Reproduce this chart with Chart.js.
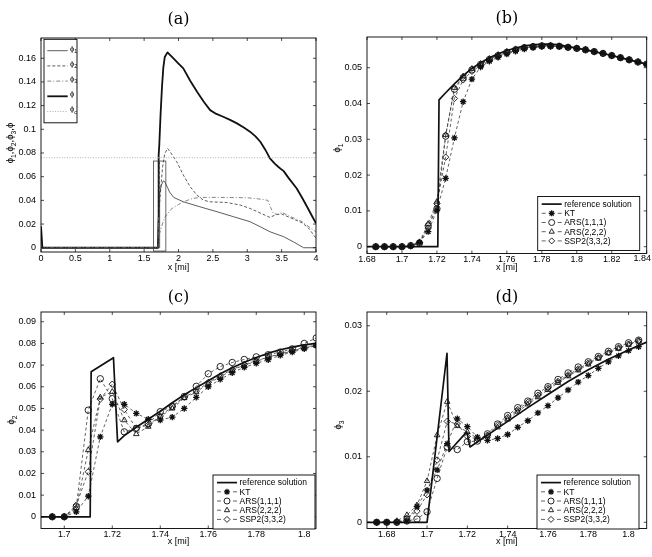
<!DOCTYPE html>
<html><head><meta charset="utf-8">
<script src="https://cdn.jsdelivr.net/npm/chart.js@4.4.1/dist/chart.umd.min.js"></script>
<style>
html,body{margin:0;padding:0;background:#fff;width:652px;height:557px;overflow:hidden;}
canvas{position:absolute;}
</style></head>
<body>
<canvas id="ca" width="326" height="280" style="left:0;top:0"></canvas>
<canvas id="cb" width="326" height="280" style="left:326px;top:0"></canvas>
<canvas id="cc" width="326" height="277" style="left:0;top:280px"></canvas>
<canvas id="cd" width="326" height="277" style="left:326px;top:280px"></canvas>
<script>
// ---------------- DATA ----------------
// Panel (a): full domain
const aX_phi1 = [0, 1.72, 1.7212, 1.73, 1.75, 1.78, 1.80, 1.84, 1.87, 1.93, 2.07, 2.31, 2.56, 2.80, 3.04, 3.19, 3.33, 3.53, 3.67, 3.82, 4.0];
const aY_phi1 = [0, 0, 0.041, 0.0455, 0.0528, 0.0565, 0.0557, 0.051, 0.047, 0.0425, 0.0388, 0.0346, 0.0304, 0.0262, 0.022, 0.0177, 0.0135, 0.0093, 0.005, 0, 0];
const aX_phi2 = [0, 1.7108, 1.7112, 1.7205, 1.722, 1.73, 1.75, 1.77, 1.80, 1.84, 1.878, 1.975, 2.07, 2.17, 2.266, 2.36, 2.45, 2.7, 2.9, 3.05, 3.2, 3.33, 3.42, 3.5, 3.6, 3.8, 3.9, 4.0];
const aY_phi2 = [0, 0, 0.0669, 0.0734, 0.0346, 0.0413, 0.056, 0.0688, 0.0793, 0.0839, 0.081, 0.0726, 0.0614, 0.0515, 0.0445, 0.0403, 0.0388, 0.0382, 0.036, 0.033, 0.029, 0.0256, 0.028, 0.0285, 0.026, 0.021, 0.016, 0.008];
const aX_phi3 = [0, 1.70, 1.7099, 1.7109, 1.7197, 1.7213, 1.74, 1.76, 1.78, 1.80, 1.83, 1.9, 2.0, 2.07, 2.2, 2.31, 2.6, 3.0, 3.2, 3.3, 3.34, 3.38, 3.45, 3.5, 3.6, 3.8, 3.9, 4.0];
const aY_phi3 = [0, 0, 0.0258, 0.0108, 0.0138, 0.0115, 0.015, 0.0188, 0.0226, 0.026, 0.0276, 0.033, 0.0365, 0.0388, 0.0415, 0.0425, 0.0425, 0.0422, 0.041, 0.040, 0.034, 0.029, 0.028, 0.030, 0.027, 0.022, 0.0175, 0.0135];
const aX_phi = [0, 0.02, 1.70, 1.7099, 1.7112, 1.7205, 1.722, 1.74, 1.76, 1.78, 1.80, 1.84, 1.93, 2.0, 2.07, 2.17, 2.27, 2.37, 2.46, 2.55, 2.65, 2.75, 2.85, 2.95, 3.04, 3.12, 3.19, 3.26, 3.33, 3.4, 3.45, 3.5, 3.53, 3.6, 3.72, 3.8, 3.87, 3.94, 4.0];
const aY_phi = [0.018, 0, 0, 0.026, 0.078, 0.087, 0.087, 0.1135, 0.136, 0.1526, 0.161, 0.165, 0.1596, 0.1555, 0.1514, 0.141, 0.1317, 0.123, 0.1162, 0.113, 0.1106, 0.108, 0.105, 0.1015, 0.098, 0.094, 0.0895, 0.083, 0.0755, 0.071, 0.0684, 0.066, 0.0647, 0.059, 0.050, 0.042, 0.0346, 0.027, 0.0206];
const aX_phic = [0, 4];
const aY_phic = [0.076, 0.076];
const aInsetX = [1.636, 1.816];
const aInsetY = [-0.0028, 0.0732];
const aXTicks = [0, 0.5, 1, 1.5, 2, 2.5, 3, 3.5, 4];
const aYTicks = [0, 0.02, 0.04, 0.06, 0.08, 0.1, 0.12, 0.14, 0.16];

// Panel (b): phi_1 zoom
const bRefX = [1.68, 1.7205, 1.7212, 1.725, 1.73, 1.735, 1.74, 1.745, 1.75, 1.755, 1.76, 1.765, 1.77, 1.775, 1.78, 1.785, 1.79, 1.80, 1.81, 1.82, 1.83, 1.84];
const bRefY = [0, 0, 0.041, 0.043, 0.0455, 0.0478, 0.0498, 0.0514, 0.0528, 0.0539, 0.0548, 0.0555, 0.0561, 0.0564, 0.0566, 0.0566, 0.0564, 0.0555, 0.0545, 0.0534, 0.0522, 0.051];
const bX = [1.685,1.69,1.695,1.70,1.705,1.71,1.715,1.72,1.725,1.73,1.735,1.74,1.745,1.75,1.755,1.76,1.765,1.77,1.775,1.78,1.785,1.79,1.795,1.80,1.805,1.81,1.815,1.82,1.825,1.83,1.835,1.84];
const bKT     = [0,0,0,0,0.0002,0.0012,0.0042,0.0102,0.0191,0.0304,0.0405,0.0468,0.0502,0.0518,0.0529,0.0538,0.0546,0.0552,0.0556,0.0559,0.0560,0.0559,0.0557,0.0554,0.0550,0.0545,0.0540,0.0534,0.0528,0.0522,0.0516,0.0510];
const bARS111 = [0,0,0,0,0.0003,0.0010,0.0058,0.0106,0.0309,0.0440,0.0472,0.0494,0.0509,0.0523,0.0534,0.0543,0.0550,0.0556,0.0559,0.0561,0.0561,0.0560,0.0557,0.0554,0.0550,0.0545,0.0540,0.0534,0.0528,0.0522,0.0516,0.0510];
const bARS222 = [0,0,0,0,0.0003,0.0013,0.0064,0.0126,0.0312,0.0444,0.0476,0.0497,0.0511,0.0525,0.0536,0.0545,0.0552,0.0557,0.0560,0.0562,0.0562,0.0560,0.0557,0.0554,0.0550,0.0545,0.0540,0.0534,0.0528,0.0522,0.0516,0.0510];
const bSSP    = [0,0,0,0,0.0003,0.0011,0.0052,0.0120,0.0250,0.0414,0.0466,0.0490,0.0506,0.0520,0.0531,0.0541,0.0549,0.0555,0.0558,0.0560,0.0561,0.0560,0.0557,0.0554,0.0550,0.0545,0.0540,0.0534,0.0528,0.0522,0.0516,0.0510];
const bXTicks = [1.68, 1.7, 1.72, 1.74, 1.76, 1.78, 1.8, 1.82, 1.84];
const bYTicks = [0, 0.01, 0.02, 0.03, 0.04, 0.05];

// Panel (c): phi_2 zoom
const cRefX = [1.69, 1.7108, 1.7112, 1.7205, 1.7222, 1.725, 1.73, 1.735, 1.74, 1.745, 1.75, 1.755, 1.76, 1.765, 1.77, 1.775, 1.78, 1.785, 1.79, 1.795, 1.80, 1.805];
const cRefY = [0, 0, 0.0669, 0.0734, 0.0346, 0.0375, 0.0413, 0.045, 0.0487, 0.0526, 0.0563, 0.0596, 0.0628, 0.066, 0.0688, 0.0713, 0.0735, 0.0755, 0.0771, 0.0783, 0.0793, 0.080];
const cX = [1.695,1.70,1.705,1.71,1.715,1.72,1.725,1.73,1.735,1.74,1.745,1.75,1.755,1.76,1.765,1.77,1.775,1.78,1.785,1.79,1.795,1.80,1.805];
const cKT     = [0,0,0.0023,0.0095,0.0369,0.0519,0.0519,0.0477,0.0450,0.0446,0.0460,0.0500,0.0551,0.0600,0.0634,0.0665,0.0690,0.0708,0.0725,0.0745,0.0760,0.0775,0.0790];
const cARS111 = [0,0,0.0046,0.0492,0.0637,0.0545,0.0392,0.0408,0.0430,0.0485,0.0510,0.0555,0.0602,0.0660,0.0693,0.0712,0.0726,0.0738,0.0748,0.0760,0.0775,0.0800,0.0825];
const cARS222 = [0,0,0.0040,0.0308,0.0551,0.0577,0.0446,0.0382,0.0416,0.0462,0.0500,0.0548,0.0575,0.0615,0.0646,0.0677,0.0700,0.0718,0.0735,0.0750,0.0765,0.0780,0.0790];
const cSSP    = [0,0,0.0054,0.0208,0.0543,0.0612,0.0495,0.0408,0.0424,0.0465,0.0508,0.0552,0.0580,0.0620,0.0650,0.0680,0.0703,0.0720,0.0737,0.0752,0.0767,0.0782,0.0792];
const cXTicks = [1.7, 1.72, 1.74, 1.76, 1.78, 1.8];
const cYTicks = [0, 0.01, 0.02, 0.03, 0.04, 0.05, 0.06, 0.07, 0.08, 0.09];

// Panel (d): phi_3 zoom
const dRefX = [1.67, 1.70, 1.7099, 1.7109, 1.7197, 1.7213, 1.73, 1.74, 1.75, 1.76, 1.77, 1.78, 1.79, 1.80, 1.809];
const dRefY = [0, 0, 0.0258, 0.0108, 0.0138, 0.0115, 0.0133, 0.0154, 0.0175, 0.0195, 0.0215, 0.0233, 0.0249, 0.0263, 0.0275];
const dX = [1.675,1.68,1.685,1.69,1.695,1.70,1.705,1.71,1.715,1.72,1.725,1.73,1.735,1.74,1.745,1.75,1.755,1.76,1.765,1.77,1.775,1.78,1.785,1.79,1.795,1.80,1.805];
const dKT     = [0,0,0,0.0002,0.0024,0.0049,0.0080,0.0120,0.0158,0.0146,0.0130,0.0125,0.0128,0.0134,0.0145,0.0155,0.0167,0.0178,0.0190,0.0202,0.0214,0.0224,0.0235,0.0245,0.0254,0.0262,0.0268];
const dARS111 = [0,0,0,0.0002,0.0005,0.0016,0.0067,0.0115,0.0111,0.0123,0.0124,0.0135,0.0150,0.0163,0.0175,0.0185,0.0197,0.0207,0.0218,0.0228,0.0237,0.0245,0.0253,0.0261,0.0268,0.0274,0.0278];
const dARS222 = [0,0,0.0002,0.0011,0.0026,0.0063,0.0133,0.0184,0.0147,0.0138,0.0128,0.0132,0.0145,0.0157,0.0169,0.0180,0.0191,0.0202,0.0213,0.0223,0.0232,0.0241,0.0250,0.0258,0.0265,0.0271,0.0276];
const dSSP    = [0,0,0,0.0006,0.0017,0.0042,0.0095,0.0154,0.0150,0.0131,0.0127,0.0133,0.0148,0.0160,0.0172,0.0183,0.0194,0.0205,0.0215,0.0225,0.0234,0.0243,0.0251,0.0259,0.0266,0.0272,0.0277];
const dXTicks = [1.68, 1.7, 1.72, 1.74, 1.76, 1.78, 1.8];
const dYTicks = [0, 0.01, 0.02, 0.03];

const methodNames = ['reference solution', 'KT', 'ARS(1,1,1)', 'ARS(2,2,2)', 'SSP2(3,3,2)'];
const methodMarkers = ['star', 'circle', 'triangle', 'rectRot'];

// ---------------- RENDERING ----------------
const FAM = '"Liberation Sans", Arial, Helvetica, sans-serif';
const PHIFAM = '"Liberation Sans", "DejaVu Sans", sans-serif';
Chart.defaults.font.family = FAM;
Chart.defaults.font.size = 9;
Chart.defaults.color = '#000';

const fmt = v => String(parseFloat(Number(v).toFixed(4)));
const pts = (xs, ys) => xs.map((x, i) => ({x: x, y: ys[i]}));

function lineDs(label, xs, ys, o) {
  return Object.assign({label, data: pts(xs, ys), showLine: true, pointRadius: 0,
    borderColor: '#000', borderWidth: 1, fill: false, tension: 0}, o);
}
function markDs(label, xs, ys, style) {
  return {label, data: pts(xs, ys), showLine: true, borderColor: '#3a3a3a', borderWidth: 0.8,
    borderDash: [3, 2.5], pointStyle: style, pointRadius: 3.2, pointBorderColor: '#111',
    pointBackgroundColor: 'rgba(0,0,0,0)', pointBorderWidth: style === 'star' ? 1.3 : 0.9, tension: 0};
}
function refDs(xs, ys) { return lineDs(methodNames[0], xs, ys, {borderColor: '#111', borderWidth: 1.7}); }

function richWidth(ctx, segs, f, fam) {
  let w = 0;
  for (const s of segs) {
    ctx.font = f + 'px ' + fam; w += ctx.measureText(s.t).width;
    if (s.s) { ctx.font = (f * 0.72) + 'px ' + fam; w += ctx.measureText(s.s).width; }
  }
  return w;
}
function drawRich(ctx, segs, x, y, f, align, fam) {
  fam = fam || PHIFAM;
  const w = richWidth(ctx, segs, f, fam);
  let cx = align === 'center' ? x - w / 2 : x;
  ctx.textBaseline = 'middle'; ctx.textAlign = 'left';
  for (const s of segs) {
    ctx.font = f + 'px ' + fam; ctx.fillText(s.t, cx, y); cx += ctx.measureText(s.t).width;
    if (s.s) { ctx.font = (f * 0.72) + 'px ' + fam; ctx.fillText(s.s, cx, y + f * 0.38); cx += ctx.measureText(s.s).width; }
  }
}

const PANELS = {};

const framePlugin = {
  id: 'mframe',
  afterDatasetsDraw(chart) {
    const P = PANELS[chart.canvas.id];
    const ctx = chart.ctx, a = chart.chartArea, xs = chart.scales.x, ys = chart.scales.y;
    ctx.save();
    // inset rectangle (panel a)
    if (P.inset) {
      const x0 = xs.getPixelForValue(P.inset.x[0]), x1 = xs.getPixelForValue(P.inset.x[1]);
      const y0 = ys.getPixelForValue(P.inset.y[0]), y1 = ys.getPixelForValue(P.inset.y[1]);
      ctx.strokeStyle = '#444'; ctx.lineWidth = 0.8; ctx.setLineDash([]);
      ctx.strokeRect(x0, y1, x1 - x0, y0 - y1);
    }
    // box
    ctx.strokeStyle = '#000'; ctx.lineWidth = 0.9; ctx.setLineDash([]);
    ctx.strokeRect(a.left, a.top, a.right - a.left, a.bottom - a.top);
    // inward ticks
    ctx.lineWidth = 0.7; ctx.beginPath();
    const tl = 3;
    for (const v of P.xt) {
      const px = xs.getPixelForValue(v);
      ctx.moveTo(px, a.bottom); ctx.lineTo(px, a.bottom - tl);
      ctx.moveTo(px, a.top); ctx.lineTo(px, a.top + tl);
    }
    for (const v of P.yt) {
      const py = ys.getPixelForValue(v);
      ctx.moveTo(a.left, py); ctx.lineTo(a.left + tl, py);
      ctx.moveTo(a.right, py); ctx.lineTo(a.right - tl, py);
    }
    ctx.stroke();
    ctx.fillStyle = '#000';
    // edge tick labels that would be clipped by the page edge
    if (P.edgeX) {
      ctx.font = '9px ' + FAM; ctx.textBaseline = 'middle'; ctx.textAlign = 'center';
      for (const v of P.edgeX) {
        const s = fmt(v), w = ctx.measureText(s).width;
        let px = xs.getPixelForValue(v);
        px = Math.min(px, chart.width - 1 - w / 2);
        ctx.fillText(s, px, P.tickY);
      }
    }
    // title
    ctx.font = '16px "DejaVu Serif", "Liberation Serif", serif';
    ctx.textAlign = 'center'; ctx.textBaseline = 'middle';
    ctx.fillText(P.title, (a.left + a.right) / 2, P.titleY);
    // x label
    ctx.font = '9px ' + FAM;
    ctx.fillText('x [mi]', (a.left + a.right) / 2, P.xlabelY);
    // y label (rotated)
    ctx.save();
    ctx.translate(P.ylabelX, P.ylabelY); ctx.rotate(-Math.PI / 2);
    drawRich(ctx, P.ylabel, 0, 0, 9.5, 'center');
    ctx.restore();
    // legend
    const L = P.legend;
    if (L) {
      ctx.fillStyle = '#fff'; ctx.fillRect(L.x, L.y, L.w, L.h);
      ctx.strokeStyle = '#000'; ctx.lineWidth = 0.9; ctx.strokeRect(L.x, L.y, L.w, L.h);
      L.items.forEach((it, i) => {
        const yy = L.y + L.first + i * L.step;
        const sx0 = L.x + L.s0, sx1 = L.x + L.s1;
        ctx.save();
        ctx.strokeStyle = it.color || '#111'; ctx.lineWidth = it.lw || 0.8;
        ctx.setLineDash(it.dash || []);
        if (it.marker) {
          const mx = L.x + L.mx;
          ctx.strokeStyle = '#3a3a3a'; ctx.lineWidth = 0.8; ctx.setLineDash([]);
          ctx.beginPath(); ctx.moveTo(sx0, yy); ctx.lineTo(sx0 + 4, yy);
          ctx.moveTo(sx1 - 4, yy); ctx.lineTo(sx1, yy); ctx.stroke();
          ctx.strokeStyle = '#111'; ctx.fillStyle = 'rgba(0,0,0,0)';
          ctx.lineWidth = it.marker === 'star' ? 1.3 : 0.9;
          Chart.helpers.drawPoint(ctx, {pointStyle: it.marker, radius: 3.0, rotation: 0, borderWidth: ctx.lineWidth}, mx, yy);
        } else {
          ctx.beginPath(); ctx.moveTo(sx0, yy); ctx.lineTo(sx1, yy); ctx.stroke();
        }
        ctx.restore();
        ctx.fillStyle = '#000';
        if (it.rich) {
          drawRich(ctx, it.rich, L.x + L.tx, yy - 2.2, 7.5, 'left');
        } else {
          ctx.font = '8.5px ' + FAM; ctx.textAlign = 'left'; ctx.textBaseline = 'middle';
          ctx.fillText(it.label, L.x + L.tx, yy + 0.5);
        }
      });
    }
    ctx.restore();
  }
};

function methodLegend(x, y) {
  return {x, y, w: 102, h: 54, first: 7.6, step: 9.2, s0: 4, s1: 24, mx: 14, tx: 26.5,
    items: [
      {label: methodNames[0], lw: 1.7, color: '#111'},
      {label: methodNames[1], marker: methodMarkers[0]},
      {label: methodNames[2], marker: methodMarkers[1]},
      {label: methodNames[3], marker: methodMarkers[2]},
      {label: methodNames[4], marker: methodMarkers[3]}
    ]};
}

function makeChart(id, P) {
  PANELS[id] = P;
  const hidden = P.edgeX || [];
  new Chart(document.getElementById(id), {
    type: 'scatter',
    data: {datasets: P.datasets},
    options: {
      responsive: false, animation: false, events: [],
      layout: {padding: {left: 0, top: P.area.t, right: P.W - P.area.r, bottom: 0}},
      plugins: {legend: {display: false}, tooltip: {enabled: false}, title: {display: false}},
      elements: {line: {borderCapStyle: 'butt', borderJoinStyle: 'round'}},
      scales: {
        x: {type: 'linear', min: P.xr[0], max: P.xr[1],
          grid: {display: false, drawTicks: false}, border: {display: false},
          ticks: {padding: P.tickPad, maxRotation: 0, minRotation: 0, autoSkip: false,
            callback: v => (hidden.some(h => Math.abs(h - v) < 1e-9) ? '' : fmt(v)), font: {size: 9}, color: '#000'},
          afterBuildTicks: s => { s.ticks = P.xt.map(v => ({value: v})); },
          afterFit: s => { s.height = P.H - P.area.b; s.paddingLeft = 0; s.paddingRight = 0; }
        },
        y: {type: 'linear', min: P.yr[0], max: P.yr[1],
          grid: {display: false, drawTicks: false}, border: {display: false},
          ticks: {padding: 5, autoSkip: false, callback: v => fmt(v), font: {size: 9}, color: '#000'},
          afterBuildTicks: s => { s.ticks = P.yt.map(v => ({value: v})); },
          afterFit: s => { s.width = P.area.l; s.paddingTop = 0; s.paddingBottom = 0; }
        }
      }
    },
    plugins: [framePlugin]
  });
}

const PHI = 'ϕ';

// Panel (a)
makeChart('ca', {
  W: 326, H: 280, area: {l: 41, t: 38, r: 316, b: 252}, tickPad: 1.5,
  xr: [0, 4], yr: [-0.0036, 0.1771], xt: aXTicks, yt: aYTicks,
  title: '(a)', titleY: 20, xlabelY: 267.5, ylabelX: 10, ylabelY: 143,
  ylabel: [{t: PHI, s: '1'}, {t: ',' + PHI, s: '2'}, {t: ',' + PHI, s: '3'}, {t: ',' + PHI}],
  inset: {x: aInsetX, y: aInsetY},
  datasets: [
    lineDs('phi_c', aX_phic, aY_phic, {borderColor: '#a8a8a8', borderWidth: 0.9, borderDash: [1, 1.6]}),
    lineDs('phi_3', aX_phi3, aY_phi3, {borderColor: '#666', borderWidth: 0.8, borderDash: [4, 2, 1, 2]}),
    lineDs('phi_2', aX_phi2, aY_phi2, {borderColor: '#333', borderWidth: 0.8, borderDash: [3, 2]}),
    lineDs('phi_1', aX_phi1, aY_phi1, {borderColor: '#333', borderWidth: 0.8}),
    lineDs('phi', aX_phi, aY_phi, {borderColor: '#111', borderWidth: 1.8})
  ],
  legend: {x: 44, y: 39.3, w: 33, h: 83.5, first: 11.4, step: 15.2, s0: 3.3, s1: 23.7, tx: 26,
    items: [
      {rich: [{t: PHI, s: '1'}], color: '#333', lw: 0.8},
      {rich: [{t: PHI, s: '2'}], color: '#333', lw: 0.8, dash: [3, 2]},
      {rich: [{t: PHI, s: '3'}], color: '#666', lw: 0.8, dash: [4, 2, 1, 2]},
      {rich: [{t: PHI}], color: '#111', lw: 1.8},
      {rich: [{t: PHI, s: 'c'}], color: '#a8a8a8', lw: 0.9, dash: [1, 1.6]}
    ]}
});

// Panel (b)
makeChart('cb', {
  W: 326, H: 280, area: {l: 41, t: 37, r: 323, b: 253.5}, tickPad: 1,
  xr: [1.68, 1.84], yr: [-0.0019, 0.05858], xt: bXTicks, yt: bYTicks,
  edgeX: [1.84], tickY: 259,
  title: '(b)', titleY: 19, xlabelY: 267.5, ylabelX: 11.5, ylabelY: 148,
  ylabel: [{t: PHI, s: '1'}],
  datasets: [
    refDs(bRefX, bRefY),
    markDs(methodNames[1], bX, bKT, methodMarkers[0]),
    markDs(methodNames[2], bX, bARS111, methodMarkers[1]),
    markDs(methodNames[3], bX, bARS222, methodMarkers[2]),
    markDs(methodNames[4], bX, bSSP, methodMarkers[3])
  ],
  legend: methodLegend(211.7, 196.5)
});

// Panel (c)
makeChart('cc', {
  W: 326, H: 277, area: {l: 41, t: 32, r: 316, b: 248.5}, tickPad: 0.5,
  xr: [1.6903, 1.8049], yr: [-0.0054, 0.0945], xt: cXTicks, yt: cYTicks,
  title: '(c)', titleY: 18, xlabelY: 261.5, ylabelX: 11.5, ylabelY: 140,
  ylabel: [{t: PHI, s: '2'}],
  datasets: [
    refDs(cRefX, cRefY),
    markDs(methodNames[1], cX, cKT, methodMarkers[0]),
    markDs(methodNames[2], cX, cARS111, methodMarkers[1]),
    markDs(methodNames[3], cX, cARS222, methodMarkers[2]),
    markDs(methodNames[4], cX, cSSP, methodMarkers[3])
  ],
  legend: methodLegend(213, 195)
});

// Panel (d)
makeChart('cd', {
  W: 326, H: 277, area: {l: 41, t: 32, r: 322, b: 248.5}, tickPad: 0.5,
  xr: [1.6702, 1.809], yr: [-0.00095, 0.0321], xt: dXTicks, yt: dYTicks,
  title: '(d)', titleY: 18, xlabelY: 261.5, ylabelX: 12, ylabelY: 145,
  ylabel: [{t: PHI, s: '3'}],
  datasets: [
    refDs(dRefX, dRefY),
    markDs(methodNames[1], dX, dKT, methodMarkers[0]),
    markDs(methodNames[2], dX, dARS111, methodMarkers[1]),
    markDs(methodNames[3], dX, dARS222, methodMarkers[2]),
    markDs(methodNames[4], dX, dSSP, methodMarkers[3])
  ],
  legend: methodLegend(211, 195)
});
</script>
</body></html>
